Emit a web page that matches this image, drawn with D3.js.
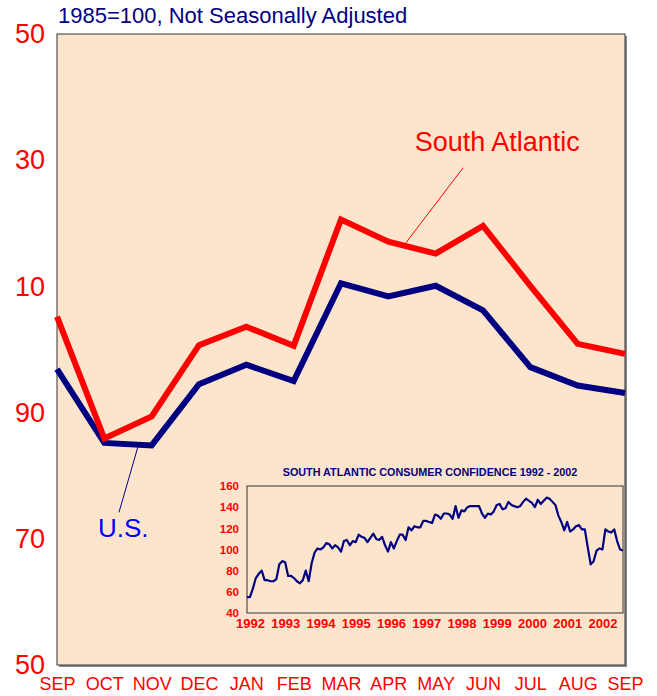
<!DOCTYPE html>
<html>
<head>
<meta charset="utf-8">
<script src="https://cdn.jsdelivr.net/npm/d3@7"></script>
<style>
  body { margin: 0; background: #fff; }
  svg { display: block; font-family: "Liberation Sans", Arial, sans-serif; }
</style>
</head>
<body>
<div id="chart"></div>
<script>
// main chart data
const months = ['SEP', 'OCT', 'NOV', 'DEC', 'JAN', 'FEB', 'MAR', 'APR', 'MAY', 'JUN', 'JUL', 'AUG', 'SEP'];
const southAtlantic = [105.2, 85.9, 89.4, 100.7, 103.6, 100.6, 120.6, 117.1, 115.2, 119.6, 110.1, 100.9, 99.3];
const us = [96.9, 85.2, 84.8, 94.5, 97.6, 95.0, 110.5, 108.4, 110.1, 106.2, 97.2, 94.3, 93.1];
const yTickValues = [50, 70, 90, 110, 130, 150];
const yTickLabels = ['50', '70', '90', '10', '30', '50'];

// inset: monthly index, Jan 1992 - Sep 2002
const insetValues = [
  55, 55, 63, 73, 77, 80, 71, 71, 70, 70, 72, 86,
  89, 88, 75, 75, 73, 70, 68, 71, 80, 70, 87, 97,
  101, 100, 102, 106, 105, 101, 104, 102, 98, 108, 109, 104,
  108, 107, 114, 112, 111, 107, 111, 115, 110, 109, 112, 104,
  98, 107, 101, 108, 114, 114, 109, 121, 118, 122, 121, 121,
  127, 127, 126, 125, 133, 132, 129, 134, 134, 133, 129, 141,
  130, 137, 136, 140, 141, 141, 141, 141, 134, 130, 134, 133,
  136, 142, 143, 138, 139, 145, 142, 141, 140, 141, 145, 148,
  146, 144, 140, 147, 143, 146, 149, 148, 145, 142, 132, 126,
  118, 126, 117, 119, 122, 123, 119, 119, 102, 86, 89, 99,
  101, 100, 119, 117, 116, 119, 108, 100, 99
];
const insetYears = ['1992', '1993', '1994', '1995', '1996', '1997', '1998', '1999', '2000', '2001', '2002'];
const insetTicks = [40, 60, 80, 100, 120, 140, 160];

const W = 657, H = 696;
const plot = {left: 57, right: 625, top: 34, bottom: 665};
const red = '#ff0000', navy = '#000080';

const svg = d3.select('#chart').append('svg')
  .attr('width', W)
  .attr('height', H);

const x = d3.scalePoint()
  .domain(d3.range(months.length))
  .range([plot.left, plot.right]);

const y = d3.scaleLinear()
  .domain([50, 150])
  .range([plot.bottom, plot.top]);

// frame with shadow
svg.append('rect')
  .attr('x', plot.left + 2).attr('y', plot.top + 2)
  .attr('width', plot.right - plot.left).attr('height', plot.bottom - plot.top)
  .attr('fill', '#8a8a8a');
svg.append('rect')
  .attr('x', plot.left).attr('y', plot.top)
  .attr('width', plot.right - plot.left).attr('height', plot.bottom - plot.top)
  .attr('fill', '#fde5cd')
  .attr('stroke', '#333')
  .attr('stroke-width', 1);

svg.append('text')
  .attr('x', 58).attr('y', 23)
  .attr('fill', navy)
  .style('font-size', '22px')
  .text('1985=100, Not Seasonally Adjusted');

// axes
const yAxis = d3.axisLeft(y)
  .tickValues(yTickValues)
  .tickSize(0)
  .tickPadding(12)
  .tickFormat((d, i) => yTickLabels[i]);
svg.append('g')
  .attr('class', 'y axis')
  .attr('transform', `translate(${plot.left},0)`)
  .call(yAxis)
  .call(g => g.select('.domain').remove())
  .selectAll('text')
  .attr('fill', red)
  .style('font-size', '27px')
  .style('font-family', '"Liberation Sans", Arial, sans-serif');

const xAxis = d3.axisBottom(x)
  .tickSize(0)
  .tickPadding(12)
  .tickFormat(i => months[i]);
svg.append('g')
  .attr('class', 'x axis')
  .attr('transform', `translate(0,${plot.bottom})`)
  .call(xAxis)
  .call(g => g.select('.domain').remove())
  .selectAll('text')
  .attr('fill', red)
  .style('font-size', '18px')
  .style('font-family', '"Liberation Sans", Arial, sans-serif');

// inset chart
const inset = {left: 247, right: 623, top: 486, bottom: 613};
const ix = d3.scaleLinear()
  .domain([0, insetValues.length - 1])
  .range([inset.left, inset.right]);
const iy = d3.scaleLinear()
  .domain([40, 160])
  .range([inset.bottom, inset.top]);

svg.append('text')
  .attr('x', (inset.left + inset.right) / 2 - 5).attr('y', 476)
  .attr('text-anchor', 'middle')
  .attr('fill', navy)
  .style('font-size', '10.8px')
  .style('font-weight', 'bold')
  .text('SOUTH ATLANTIC CONSUMER CONFIDENCE 1992 - 2002');

svg.append('rect')
  .attr('x', inset.left).attr('y', inset.top)
  .attr('width', inset.right - inset.left).attr('height', inset.bottom - inset.top)
  .attr('fill', 'none')
  .attr('stroke', '#333')
  .attr('stroke-width', 1);

svg.append('g')
  .attr('transform', `translate(${inset.left},0)`)
  .call(d3.axisLeft(iy).tickValues(insetTicks).tickSize(0).tickPadding(8))
  .call(g => g.select('.domain').remove())
  .selectAll('text')
  .attr('fill', red)
  .style('font-size', '11.5px')
  .style('font-weight', 'bold')
  .style('font-family', '"Liberation Sans", Arial, sans-serif');

svg.append('g')
  .attr('transform', `translate(3,${inset.bottom})`)
  .call(d3.axisBottom(ix).tickValues(insetYears.map((d, i) => i * 12)).tickSize(0).tickPadding(6)
    .tickFormat((d, i) => insetYears[i]))
  .call(g => g.select('.domain').remove())
  .selectAll('text')
  .attr('fill', red)
  .style('font-size', '13px')
  .style('font-weight', 'bold')
  .style('font-family', '"Liberation Sans", Arial, sans-serif');

svg.append('path')
  .datum(insetValues)
  .attr('fill', 'none')
  .attr('stroke', navy)
  .attr('stroke-width', 2.2)
  .attr('stroke-linejoin', 'round')
  .attr('d', d3.line().x((d, i) => ix(i)).y(d => iy(d)));

// main lines
const line = d3.line()
  .x((d, i) => x(i))
  .y(d => y(d));

svg.append('path')
  .datum(us)
  .attr('fill', 'none')
  .attr('stroke', navy)
  .attr('stroke-width', 6)
  .attr('d', line);

svg.append('path')
  .datum(southAtlantic)
  .attr('fill', 'none')
  .attr('stroke', red)
  .attr('stroke-width', 6)
  .attr('d', line);

// annotations (in data units)
const step = x.step();
const at = (i, v) => [x(0) + i * step, y(v)];

const saFrom = at(7.37, 116.9), saTo = at(8.58, 128.8);
svg.append('line')
  .attr('x1', saFrom[0]).attr('y1', saFrom[1])
  .attr('x2', saTo[0]).attr('y2', saTo[1])
  .attr('stroke', red).attr('stroke-width', 1);
svg.append('text')
  .attr('x', at(9.3, 0)[0]).attr('y', y(131.4))
  .attr('text-anchor', 'middle')
  .attr('fill', red)
  .style('font-size', '27px')
  .text('South Atlantic');

const usFrom = at(1.71, 84.6), usTo = at(1.31, 74.2);
svg.append('line')
  .attr('x1', usFrom[0]).attr('y1', usFrom[1])
  .attr('x2', usTo[0]).attr('y2', usTo[1])
  .attr('stroke', navy).attr('stroke-width', 1);
svg.append('text')
  .attr('x', at(1.4, 0)[0]).attr('y', y(70.3))
  .attr('text-anchor', 'middle')
  .attr('fill', '#0000ff')
  .style('font-size', '26px')
  .text('U.S.');
</script>
</body>
</html>
